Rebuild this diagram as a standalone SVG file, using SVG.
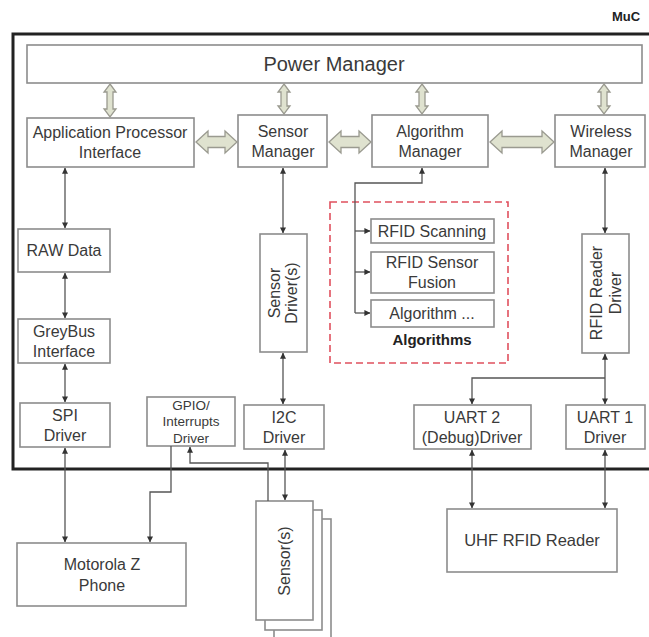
<svg xmlns="http://www.w3.org/2000/svg" width="649" height="637" viewBox="0 0 649 637">
<defs>
<marker id="ah" viewBox="0 0 8 8" refX="7.5" refY="4" markerWidth="6" markerHeight="6" orient="auto-start-reverse" markerUnits="userSpaceOnUse">
<path d="M0,0 L8,4 L0,8 Z" fill="#333"/>
</marker>
<style>
.box{fill:#fff;stroke:#8c8c8c;stroke-width:1.6}
.t{font-family:"Liberation Sans",Arial,sans-serif;font-size:16px;fill:#3a3a3a;text-anchor:middle}
.blk{fill:#dfe2cf;stroke:#9a9a90;stroke-width:1.3}
.ln{fill:none;stroke:#555;stroke-width:1.3}
.ar{marker-end:url(#ah)}
.ar2{marker-start:url(#ah);marker-end:url(#ah)}
</style>
</defs>
<rect width="649" height="637" fill="#fff"/>

<g id="muc">
<rect x="13" y="34" width="660" height="435" fill="none" stroke="#222" stroke-width="3"/>
<text x="626" y="21" class="t" style="font-size:13px;font-weight:bold;fill:#222">MuC</text>
</g>

<g id="power-manager">
<rect class="box" x="27" y="45" width="615" height="38"/>
<text class="t" x="334" y="71" style="font-size:20px">Power Manager</text>
</g>

<g id="api">
<rect class="box" x="27" y="118" width="167" height="49"/>
<text class="t" x="110" y="138">Application Processor</text>
<text class="t" x="110" y="158">Interface</text>
</g>
<g id="sensor-manager">
<rect class="box" x="238" y="115" width="89" height="52"/>
<text class="t" x="283" y="137">Sensor</text>
<text class="t" x="283" y="157">Manager</text>
</g>
<g id="algorithm-manager">
<rect class="box" x="372" y="115" width="116" height="52"/>
<text class="t" x="430" y="137">Algorithm</text>
<text class="t" x="430" y="157">Manager</text>
</g>
<g id="wireless-manager">
<rect class="box" x="555" y="115" width="90" height="52"/>
<text class="t" x="601" y="137">Wireless</text>
<text class="t" x="601" y="157">Manager</text>
</g>

<g id="raw-data">
<rect class="box" x="18" y="229" width="92" height="43"/>
<text class="t" x="64" y="256">RAW Data</text>
</g>
<g id="greybus">
<rect class="box" x="18" y="319" width="92" height="44"/>
<text class="t" x="64" y="337">GreyBus</text>
<text class="t" x="64" y="357">Interface</text>
</g>
<g id="spi-driver">
<rect class="box" x="20" y="403" width="90" height="44"/>
<text class="t" x="65" y="421">SPI</text>
<text class="t" x="65" y="441">Driver</text>
</g>
<g id="gpio-driver">
<rect class="box" x="147" y="397" width="88" height="49"/>
<text class="t" x="191" y="410" style="font-size:13.5px">GPIO/</text>
<text class="t" x="191" y="426" style="font-size:13.5px">Interrupts</text>
<text class="t" x="191" y="443" style="font-size:13.5px">Driver</text>
</g>
<g id="i2c-driver">
<rect class="box" x="244" y="405" width="80" height="44"/>
<text class="t" x="284" y="423">I2C</text>
<text class="t" x="284" y="443">Driver</text>
</g>
<g id="sensor-drivers">
<rect class="box" x="260" y="234" width="47" height="118"/>
<g transform="translate(283,293) rotate(-90)">
<text class="t" x="0" y="-3">Sensor</text>
<text class="t" x="0" y="14">Driver(s)</text>
</g>
</g>

<g id="algorithms">
<rect x="330" y="202" width="178" height="161" fill="none" stroke="#e0505e" stroke-width="1.6" stroke-dasharray="7,4"/>
<text class="t" x="432" y="345" style="font-weight:bold;font-size:15px;fill:#222">Algorithms</text>
</g>
<g id="rfid-scanning">
<rect class="box" x="371" y="219" width="123" height="24"/>
<text class="t" x="432" y="237">RFID Scanning</text>
</g>
<g id="rfid-sensor-fusion">
<rect class="box" x="371" y="252" width="123" height="41"/>
<text class="t" x="432" y="268">RFID Sensor</text>
<text class="t" x="432" y="288">Fusion</text>
</g>
<g id="algorithm-etc">
<rect class="box" x="371" y="300" width="123" height="27"/>
<text class="t" x="432" y="319">Algorithm ...</text>
</g>

<g id="rfid-reader-driver">
<rect class="box" x="582" y="234" width="47" height="119"/>
<g transform="translate(605,293) rotate(-90)">
<text class="t" x="0" y="-3">RFID Reader</text>
<text class="t" x="0" y="16">Driver</text>
</g>
</g>
<g id="uart2">
<rect class="box" x="414" y="405" width="117" height="44"/>
<text class="t" x="472" y="423">UART 2</text>
<text class="t" x="472" y="443">(Debug)Driver</text>
</g>
<g id="uart1">
<rect class="box" x="566" y="405" width="79" height="44"/>
<text class="t" x="605" y="423">UART 1</text>
<text class="t" x="605" y="443">Driver</text>
</g>

<g id="motorola">
<rect class="box" x="17" y="543" width="169" height="63"/>
<text class="t" x="102" y="570">Motorola Z</text>
<text class="t" x="102" y="591">Phone</text>
</g>
<g id="uhf-rfid-reader">
<rect class="box" x="447" y="509" width="170" height="63"/>
<text class="t" x="532" y="546" style="font-size:16.5px">UHF RFID Reader</text>
</g>
<g id="sensors">
<rect class="box" x="274" y="519" width="57" height="125"/>
<rect class="box" x="265" y="510" width="57" height="120"/>
<rect class="box" x="256" y="501" width="57" height="119"/>
<g transform="translate(284,561) rotate(-90)">
<text class="t" x="0" y="6">Sensor(s)</text>
</g>
</g>

<g id="connectors">
<g id="block-arrows">
<path class="blk" d="M196,142 L208,131 L208,136.5 L225,136.5 L225,131 L237,142 L225,153 L225,147.5 L208,147.5 L208,153 Z"/>
<path class="blk" d="M329,142 L341,131 L341,136.5 L359,136.5 L359,131 L371,142 L359,153 L359,147.5 L341,147.5 L341,153 Z"/>
<path class="blk" d="M490,142 L502,131 L502,136.5 L542,136.5 L542,131 L554,142 L542,153 L542,147.5 L502,147.5 L502,153 Z"/>
<path class="blk" d="M110,84 L116,92 L113,92 L113,109 L116,109 L110,117 L104,109 L107,109 L107,92 L104,92 Z"/>
<path class="blk" d="M284,84 L290,92 L287,92 L287,106 L290,106 L284,114 L278,106 L281,106 L281,92 L278,92 Z"/>
<path class="blk" d="M422,84 L428,92 L425,92 L425,106 L428,106 L422,114 L416,106 L419,106 L419,92 L416,92 Z"/>
<path class="blk" d="M604,84 L610,92 L607,92 L607,106 L610,106 L604,114 L598,106 L601,106 L601,92 L598,92 Z"/>
</g>
<line class="ln ar2" x1="65" y1="168" x2="65" y2="228"/>
<line class="ln ar2" x1="65" y1="273" x2="65" y2="318"/>
<line class="ln ar2" x1="65" y1="364" x2="65" y2="402"/>
<line class="ln ar2" x1="65" y1="448" x2="65" y2="542"/>
<line class="ln ar2" x1="283" y1="168" x2="283" y2="233"/>
<line class="ln ar2" x1="283" y1="353" x2="283" y2="404"/>
<line class="ln ar2" x1="285" y1="450" x2="285" y2="500"/>
<polyline class="ln" points="422,168 422,183 355,183 355,313" style="marker-start:url(#ah)"/>
<line class="ln ar" x1="355" y1="231" x2="370" y2="231"/>
<line class="ln ar" x1="355" y1="272" x2="370" y2="272"/>
<line class="ln ar" x1="355" y1="313" x2="370" y2="313"/>
<line class="ln ar2" x1="605" y1="168" x2="605" y2="233"/>
<line class="ln ar2" x1="605" y1="354" x2="605" y2="404"/>
<polyline class="ln ar" points="605,378 472,378 472,404"/>
<line class="ln ar2" x1="472" y1="450" x2="472" y2="508"/>
<line class="ln ar2" x1="605" y1="450" x2="605" y2="508"/>
<polyline class="ln ar" points="171,446 171,492 150,492 150,542"/>
<polyline class="ln ar" points="268,501 268,463 190,463 190,447"/>
</g>
</svg>
